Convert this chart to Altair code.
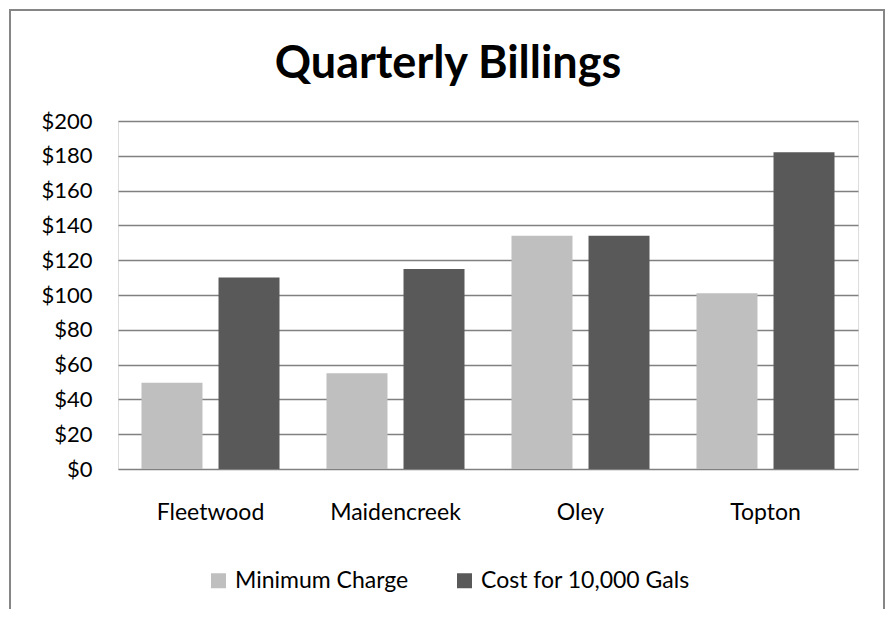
import altair as alt
import pandas as pd

categories = ["Fleetwood", "Maidencreek", "Oley", "Topton"]
minimum_charge = [49.5, 55, 134, 101]
cost_10000 = [110, 115, 134, 182]
series_names = ["Minimum Charge", "Cost for 10,000 Gals"]
series_colors = ["#BFBFBF", "#595959"]
y_ticks = list(range(0, 201, 20))
chart_title = ["Quarterly Billings"]

rows = []
for c, a, b in zip(categories, minimum_charge, cost_10000):
    rows.append({"Town": c, "Series": series_names[0], "Value": a})
    rows.append({"Town": c, "Series": series_names[1], "Value": b})
df = pd.DataFrame(rows)

FONT = "Lato"

bars = alt.Chart(df).mark_bar().encode(
    x=alt.X("Town:N", sort=categories,
            scale=alt.Scale(paddingInner=0.254, paddingOuter=0.127),
            axis=alt.Axis(title=None, labelAngle=0, ticks=False, tickSize=0, domain=False,
                          grid=False, labelPadding=32, labelFontSize=23, labelColor="#000",
                          labelFont=FONT)),
    xOffset=alt.XOffset("Series:N", sort=series_names,
                        scale=alt.Scale(paddingInner=0.208, paddingOuter=0)),
    y=alt.Y("Value:Q", scale=alt.Scale(domain=[0, 200], nice=False),
            axis=alt.Axis(title=None, values=y_ticks, format="$.0f", ticks=False, tickSize=0,
                          domain=False, grid=True, gridColor="#808080", gridWidth=1.5,
                          labelPadding=26, labelFontSize=22, labelColor="#000", labelFont=FONT)),
    color=alt.Color("Series:N", sort=series_names,
                    scale=alt.Scale(domain=series_names, range=series_colors),
                    legend=alt.Legend(orient="none", legendX=89, legendY=448,
                                      direction="horizontal", title=None,
                                      symbolType="square", symbolSize=225,
                                      symbolStrokeWidth=0, labelFontSize=23,
                                      labelFont=FONT, labelColor="#000", labelOffset=5,
                                      labelLimit=0, columnPadding=44, padding=0)),
)

frame = alt.Chart(pd.DataFrame({"k": [0]})).mark_rect(
    fill="transparent", stroke="#868686", strokeWidth=2
).encode(x=alt.value(-108), x2=alt.value(766), y=alt.value(-111), y2=alt.value(700))

title = alt.Chart(pd.DataFrame({"t": chart_title})).mark_text(
    font=FONT, fontSize=45, fontWeight="bold", color="#000", align="center",
    baseline="alphabetic"
).encode(text="t:N", x=alt.value(330), y=alt.value(-43))

chart = alt.layer(frame, bars, title).properties(
    width=740, height=348,
    padding={"left": 110, "top": 113, "right": 27, "bottom": 140},
    autosize=alt.AutoSizeParams(type="none"),
).configure_view(stroke=None).configure(background="white")

chart.save("out.html", embed_options={"renderer": "svg", "actions": False})
